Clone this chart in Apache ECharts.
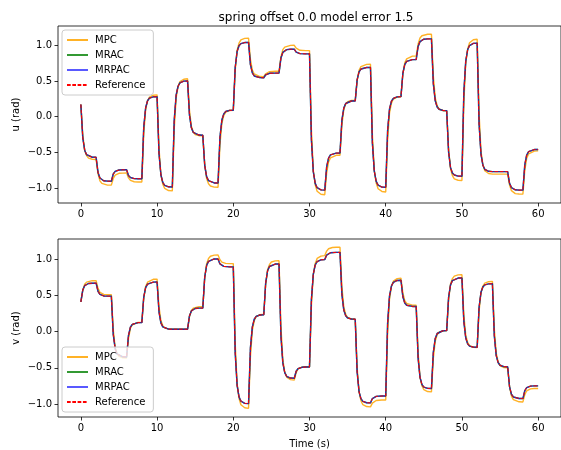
<!DOCTYPE html>
<html>
<head>
<meta charset="utf-8">
<script src="https://cdn.jsdelivr.net/npm/echarts@6.0.0/dist/echarts.min.js"></script>
<style>
  html, body { margin: 0; padding: 0; background: #fff; }
  #chart { width: 561px; height: 450px; }
</style>
</head>
<body>
<div id="chart"></div>
<script>
// Sample times (s): each 2 s command segment is sampled densely just after the step.
const tSec = [
  0, 0.25, 0.5, 0.75, 1, 1.5,
  2, 2.25, 2.5, 2.75, 3, 3.5,
  4, 4.25, 4.5, 4.75, 5, 5.5,
  6, 6.25, 6.5, 6.75, 7, 7.5,
  8, 8.25, 8.5, 8.75, 9, 9.5,
  10, 10.25, 10.5, 10.75, 11, 11.5,
  12, 12.25, 12.5, 12.75, 13, 13.5,
  14, 14.25, 14.5, 14.75, 15, 15.5,
  16, 16.25, 16.5, 16.75, 17, 17.5,
  18, 18.25, 18.5, 18.75, 19, 19.5,
  20, 20.25, 20.5, 20.75, 21, 21.5,
  22, 22.25, 22.5, 22.75, 23, 23.5,
  24, 24.25, 24.5, 24.75, 25, 25.5,
  26, 26.25, 26.5, 26.75, 27, 27.5,
  28, 28.25, 28.5, 28.75, 29, 29.5,
  30, 30.25, 30.5, 30.75, 31, 31.5,
  32, 32.25, 32.5, 32.75, 33, 33.5,
  34, 34.25, 34.5, 34.75, 35, 35.5,
  36, 36.25, 36.5, 36.75, 37, 37.5,
  38, 38.25, 38.5, 38.75, 39, 39.5,
  40, 40.25, 40.5, 40.75, 41, 41.5,
  42, 42.25, 42.5, 42.75, 43, 43.5,
  44, 44.25, 44.5, 44.75, 45, 45.5,
  46, 46.25, 46.5, 46.75, 47, 47.5,
  48, 48.25, 48.5, 48.75, 49, 49.5,
  50, 50.25, 50.5, 50.75, 51, 51.5,
  52, 52.25, 52.5, 52.75, 53, 53.5,
  54, 54.25, 54.5, 54.75, 55, 55.5,
  56, 56.25, 56.5, 56.75, 57, 57.5,
  58, 58.25, 58.5, 58.75, 59, 59.5,
  60
];

// u (rad): reference model trajectory
const uRef = [
  0.17, -0.296, -0.47, -0.533, -0.557, -0.569,
  -0.57, -0.781, -0.86, -0.888, -0.899, -0.904,
  -0.905, -0.804, -0.767, -0.753, -0.748, -0.745,
  -0.745, -0.824, -0.853, -0.864, -0.868, -0.87,
  -0.87, -0.146, 0.125, 0.223, 0.259, 0.278,
  0.28, -0.517, -0.814, -0.922, -0.962, -0.983,
  -0.985, -0.049, 0.3, 0.426, 0.473, 0.497,
  0.5, 0.021, -0.157, -0.222, -0.246, -0.258,
  -0.26, -0.682, -0.84, -0.897, -0.918, -0.929,
  -0.93, -0.287, -0.048, 0.039, 0.072, 0.088,
  0.09, 0.689, 0.912, 0.993, 1.023, 1.038,
  1.04, 0.728, 0.612, 0.57, 0.554, 0.546,
  0.545, 0.586, 0.601, 0.607, 0.609, 0.61,
  0.61, 0.821, 0.9, 0.928, 0.939, 0.944,
  0.945, 0.904, 0.889, 0.883, 0.881, 0.88,
  0.88, -0.323, -0.772, -0.935, -0.996, -1.026,
  -1.03, -0.702, -0.58, -0.536, -0.519, -0.511,
  -0.51, -0.05, 0.121, 0.184, 0.207, 0.219,
  0.22, 0.516, 0.627, 0.667, 0.682, 0.689,
  0.69, -0.368, -0.763, -0.906, -0.96, -0.987,
  -0.99, -0.19, 0.109, 0.217, 0.257, 0.277,
  0.28, 0.608, 0.73, 0.774, 0.791, 0.799,
  0.8, 0.983, 1.051, 1.076, 1.085, 1.089,
  1.09, 0.457, 0.221, 0.135, 0.103, 0.087,
  0.085, -0.495, -0.711, -0.789, -0.818, -0.833,
  -0.835, 0.34, 0.778, 0.937, 0.996, 1.026,
  1.03, -0.104, -0.527, -0.68, -0.738, -0.766,
  -0.77, -0.77, -0.77, -0.77, -0.77, -0.77,
  -0.77, -0.934, -0.995, -1.017, -1.025, -1.029,
  -1.03, -0.671, -0.537, -0.489, -0.47, -0.461,
  -0.46
];

// u (rad): MPC response
const uMPC = [
  0.17, -0.254, -0.469, -0.546, -0.581, -0.597,
  -0.6, -0.798, -0.899, -0.935, -0.951, -0.959,
  -0.96, -0.867, -0.819, -0.802, -0.794, -0.791,
  -0.79, -0.859, -0.894, -0.906, -0.912, -0.915,
  -0.915, -0.244, 0.098, 0.22, 0.275, 0.3,
  0.305, -0.435, -0.811, -0.946, -1.006, -1.035,
  -1.04, -0.177, 0.263, 0.42, 0.491, 0.524,
  0.53, 0.09, -0.134, -0.214, -0.25, -0.267,
  -0.27, -0.666, -0.868, -0.94, -0.972, -0.987,
  -0.99, -0.396, -0.094, 0.014, 0.063, 0.086,
  0.09, 0.646, 0.928, 1.029, 1.075, 1.096,
  1.1, 0.803, 0.652, 0.598, 0.574, 0.562,
  0.56, 0.601, 0.622, 0.63, 0.633, 0.635,
  0.635, 0.836, 0.938, 0.974, 0.991, 0.999,
  1.0, 0.959, 0.938, 0.93, 0.927, 0.925,
  0.925, -0.186, -0.752, -0.954, -1.045, -1.087,
  -1.095, -0.79, -0.634, -0.579, -0.554, -0.542,
  -0.54, -0.116, 0.099, 0.176, 0.211, 0.227,
  0.23, 0.508, 0.649, 0.7, 0.722, 0.733,
  0.735, -0.25, -0.751, -0.93, -1.01, -1.048,
  -1.055, -0.321, 0.053, 0.187, 0.247, 0.275,
  0.28, 0.594, 0.753, 0.81, 0.836, 0.848,
  0.85, 1.018, 1.103, 1.134, 1.147, 1.154,
  1.155, 0.564, 0.263, 0.155, 0.107, 0.084,
  0.08, -0.456, -0.729, -0.827, -0.871, -0.891,
  -0.895, 0.194, 0.748, 0.946, 1.036, 1.077,
  1.085, 0.046, -0.484, -0.673, -0.758, -0.797,
  -0.805, -0.805, -0.805, -0.805, -0.805, -0.805,
  -0.805, -0.959, -1.037, -1.065, -1.078, -1.084,
  -1.085, -0.752, -0.583, -0.522, -0.495, -0.483,
  -0.48
];

// v (rad): reference model trajectory
const vRef = [
  0.41, 0.574, 0.635, 0.657, 0.665, 0.669,
  0.67, 0.557, 0.514, 0.499, 0.493, 0.49,
  0.49, -0.039, -0.237, -0.308, -0.335, -0.348,
  -0.35, -0.051, 0.061, 0.101, 0.116, 0.124,
  0.125, 0.478, 0.609, 0.657, 0.675, 0.684,
  0.685, 0.274, 0.121, 0.066, 0.045, 0.034,
  0.033, 0.033, 0.033, 0.033, 0.033, 0.033,
  0.033, 0.217, 0.286, 0.31, 0.32, 0.324,
  0.325, 0.753, 0.913, 0.971, 0.993, 1.004,
  1.005, 0.936, 0.91, 0.901, 0.897, 0.895,
  0.895, -0.296, -0.74, -0.901, -0.961, -0.991,
  -0.995, -0.222, 0.066, 0.171, 0.21, 0.23,
  0.232, 0.675, 0.84, 0.9, 0.922, 0.934,
  0.935, -0.06, -0.432, -0.566, -0.617, -0.642,
  -0.645, -0.547, -0.511, -0.498, -0.493, -0.49,
  -0.49, 0.446, 0.795, 0.921, 0.968, 0.992,
  0.995, 1.058, 1.082, 1.09, 1.093, 1.095,
  1.095, 0.514, 0.297, 0.218, 0.189, 0.174,
  0.172, -0.557, -0.829, -0.927, -0.964, -0.983,
  -0.985, -0.925, -0.903, -0.895, -0.892, -0.89,
  -0.89, 0.118, 0.494, 0.63, 0.681, 0.707,
  0.71, 0.481, 0.396, 0.365, 0.354, 0.348,
  0.347, -0.367, -0.633, -0.729, -0.766, -0.784,
  -0.786, -0.282, -0.094, -0.026, 0.0, 0.012,
  0.014, 0.472, 0.643, 0.705, 0.728, 0.74,
  0.741, 0.137, -0.088, -0.169, -0.2, -0.215,
  -0.217, 0.337, 0.543, 0.618, 0.646, 0.66,
  0.662, -0.061, -0.331, -0.429, -0.465, -0.484,
  -0.486, -0.763, -0.866, -0.903, -0.917, -0.924,
  -0.925, -0.815, -0.774, -0.759, -0.753, -0.75,
  -0.75
];

// v (rad): MPC response
const vMPC = [
  0.41, 0.572, 0.655, 0.684, 0.698, 0.704,
  0.705, 0.598, 0.543, 0.524, 0.515, 0.511,
  0.51, 0.029, -0.216, -0.304, -0.343, -0.362,
  -0.365, -0.093, 0.046, 0.095, 0.118, 0.128,
  0.13, 0.457, 0.624, 0.683, 0.71, 0.723,
  0.725, 0.346, 0.152, 0.083, 0.052, 0.038,
  0.035, 0.035, 0.035, 0.035, 0.035, 0.035,
  0.035, 0.206, 0.292, 0.323, 0.337, 0.344,
  0.345, 0.738, 0.938, 1.01, 1.042, 1.057,
  1.06, 0.994, 0.96, 0.948, 0.943, 0.94,
  0.94, -0.16, -0.72, -0.92, -1.01, -1.052,
  -1.06, -0.345, 0.019, 0.149, 0.208, 0.235,
  0.24, 0.647, 0.854, 0.928, 0.962, 0.977,
  0.98, 0.073, -0.39, -0.555, -0.629, -0.663,
  -0.67, -0.568, -0.516, -0.498, -0.49, -0.486,
  -0.485, 0.359, 0.789, 0.943, 1.012, 1.044,
  1.05, 1.113, 1.145, 1.157, 1.162, 1.165,
  1.165, 0.618, 0.339, 0.24, 0.195, 0.174,
  0.17, -0.496, -0.834, -0.955, -1.01, -1.035,
  -1.04, -0.988, -0.961, -0.952, -0.947, -0.945,
  -0.945, -0.018, 0.454, 0.622, 0.698, 0.733,
  0.74, 0.534, 0.429, 0.391, 0.374, 0.366,
  0.365, -0.294, -0.629, -0.749, -0.803, -0.828,
  -0.833, -0.367, -0.13, -0.045, -0.007, 0.011,
  0.014, 0.439, 0.656, 0.733, 0.768, 0.784,
  0.787, 0.233, -0.049, -0.15, -0.195, -0.216,
  -0.22, 0.283, 0.539, 0.63, 0.671, 0.69,
  0.694, 0.037, -0.297, -0.416, -0.47, -0.496,
  -0.5, -0.76, -0.892, -0.939, -0.96, -0.97,
  -0.972, -0.87, -0.818, -0.799, -0.791, -0.787,
  -0.786
];

// The adaptive controllers follow the reference model to within a line width.
const uMRAC = uRef, uMRPAC = uRef;
const vMRAC = vRef, vMRPAC = vRef;

const xTicks = [0, 10, 20, 30, 40, 50, 60];
const yTicks = [-1.0, -0.5, 0.0, 0.5, 1.0];

const FONT = 'DejaVu Sans';
const pairs = (ys) => tSec.map((t, i) => [t, ys[i]]);
const fmtY = (v) => v.toFixed(1).replace('-', '\u2212');

const styles = {
  MPC:       { color: '#FFA500', width: 1.4, opacity: 0.85, type: 'solid' },
  MRAC:      { color: '#008000', width: 1.4, opacity: 0.8, type: 'solid' },
  MRPAC:     { color: '#0000FF', width: 1.4, opacity: 0.65, type: 'solid' },
  Reference: { color: '#FF0000', width: 1.0, opacity: 1, type: [3.7, 1.6] }
};

function makeSeries(name, ys, idx) {
  const s = styles[name];
  return {
    name, type: 'line', xAxisIndex: idx, yAxisIndex: idx,
    data: pairs(ys), showSymbol: false, symbol: 'none',
    lineStyle: { color: s.color, width: s.width, opacity: s.opacity, type: s.type },
    itemStyle: { color: s.color, opacity: s.opacity },
    emphasis: { disabled: true }, silent: true, animation: false
  };
}

function xAxisCfg(idx, named) {
  return {
    gridIndex: idx, type: 'value', min: -3, max: 63, position: 'bottom',
    name: named ? 'Time (s)' : '', nameLocation: 'middle', nameGap: 22,
    nameMoveOverlap: false,
    nameTextStyle: { fontFamily: FONT, fontSize: 10, color: '#000' },
    axisLine: { show: false, onZero: false }, splitLine: { show: false },
    axisTick: { show: true, length: 3.5, inside: false, customValues: xTicks,
                lineStyle: { color: '#000', width: 0.8 } },
    axisLabel: { show: true, customValues: xTicks, margin: 6,
                 fontFamily: FONT, fontSize: 10, color: '#000' }
  };
}

function yAxisCfg(idx, name, min, max) {
  return {
    gridIndex: idx, type: 'value', min, max, position: 'left',
    name, nameLocation: 'middle', nameGap: 37,
    nameMoveOverlap: false,
    nameTextStyle: { fontFamily: FONT, fontSize: 10, color: '#000' },
    axisLine: { show: false, onZero: false }, splitLine: { show: false },
    axisTick: { show: true, length: 3.5, inside: false, customValues: yTicks,
                lineStyle: { color: '#000', width: 0.8 } },
    axisLabel: { show: true, customValues: yTicks, margin: 6, formatter: fmtY,
                 fontFamily: FONT, fontSize: 10, color: '#000' }
  };
}

function legendCfg(top) {
  return {
    orient: 'vertical', left: 62, top,
    data: ['MPC', 'MRAC', 'MRPAC', 'Reference'],
    itemWidth: 21, itemHeight: 10, itemGap: 5,
    padding: [5, 8, 5, 4],
    backgroundColor: 'rgba(255,255,255,0.8)',
    borderColor: '#cccccc', borderWidth: 1, borderRadius: 3,
    itemStyle: { opacity: 0, borderWidth: 0 },
    textStyle: { fontFamily: FONT, fontSize: 10, color: '#000', padding: [0, 0, 0, 2] },
    selectedMode: false
  };
}

const chart = echarts.init(document.getElementById('chart'), null, { renderer: 'canvas' });
chart.setOption({
  backgroundColor: '#fff',
  animation: false,
  title: {
    text: 'spring offset 0.0 model error 1.5',
    left: 311, top: 7, textAlign: 'center',
    textStyle: { fontFamily: FONT, fontSize: 12, fontWeight: 'normal', color: '#000' }
  },
  grid: [
    { left: 58, top: 26, width: 506, height: 177, show: true,
      borderColor: '#000', borderWidth: 0.8, backgroundColor: 'transparent' },
    { left: 58, top: 239, width: 506, height: 178, show: true,
      borderColor: '#000', borderWidth: 0.8, backgroundColor: 'transparent' }
  ],
  xAxis: [xAxisCfg(0, false), xAxisCfg(1, true)],
  yAxis: [yAxisCfg(0, 'u (rad)', -1.21, 1.27), yAxisCfg(1, 'v (rad)', -1.18, 1.28)],
  legend: [legendCfg(30), legendCfg(347)],
  series: [
    makeSeries('MPC', uMPC, 0),
    makeSeries('MRAC', uMRAC, 0),
    makeSeries('MRPAC', uMRPAC, 0),
    makeSeries('Reference', uRef, 0),
    makeSeries('MPC', vMPC, 1),
    makeSeries('MRAC', vMRAC, 1),
    makeSeries('MRPAC', vMRPAC, 1),
    makeSeries('Reference', vRef, 1)
  ]
});
</script>
</body>
</html>
